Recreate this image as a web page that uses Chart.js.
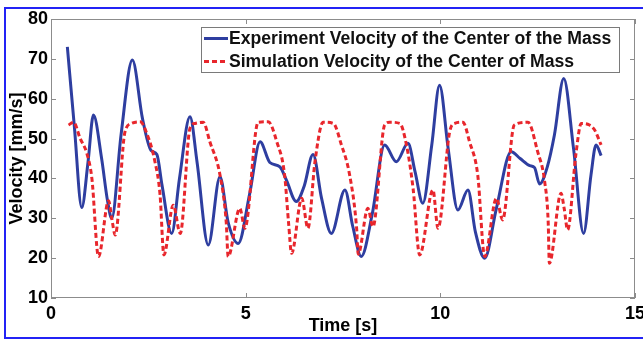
<!DOCTYPE html>
<html lang="en">
<head>
<meta charset="UTF-8">
<title>Velocity of the Center of Mass</title>
<script src="https://cdn.jsdelivr.net/npm/chart.js@4"></script>
<style>
  html, body { margin: 0; padding: 0; background: #fff; }
  #wrap { width: 643px; height: 339px; }
</style>
</head>
<body>
<div id="wrap"><canvas id="velChart" width="643" height="339"></canvas></div>
<script>
// experiment: measured velocity of the centre of mass
const expTime = [0.42, 0.6, 0.79, 0.95, 1.09, 1.3, 1.45, 1.56, 1.8, 2.09, 2.35, 2.57, 2.72, 2.85, 3.1, 3.3,
  3.57, 3.75, 4.04, 4.34, 4.55, 4.81, 5.1, 5.37, 5.62, 5.88, 6.05, 6.3, 6.5, 6.73, 6.95, 7.2, 7.55, 7.75,
  7.97, 8.25, 8.57, 8.87, 9.17, 9.35, 9.55, 9.78, 9.98, 10.2, 10.45, 10.71, 10.9, 11.14, 11.44, 11.82,
  12.05, 12.3, 12.42, 12.55, 12.75, 12.93, 13.17, 13.42, 13.68, 13.87, 14.0, 14.13];
const expVel = [73, 53, 32.7, 44, 55.9, 45, 34.5, 30, 51, 69.7, 55, 47, 46, 38.4, 26.2, 40,
  55.5, 44.2, 23.3, 40.4, 29, 23.7, 36, 49.2, 44, 42.9, 39.5, 34.2, 38, 46, 35, 26.2, 37.1, 28,
  20.4, 31, 48.4, 44.2, 48.8, 41.7, 33.8, 48.4, 63.4, 47.6, 32.1, 37.1, 26.6, 20, 32.5, 46.7,
  45, 43.2, 42.7, 38.6, 43, 50.9, 65.1, 47.6, 26.2, 40.9, 48.4, 45.7];

// simulation velocity of the centre of mass
const simTime = [0.45, 0.58, 0.75, 0.92, 1.05, 1.22, 1.48, 1.56, 1.65, 1.9, 2.07, 2.29, 2.46, 2.67, 2.8, 2.9,
  3.14, 3.32, 3.57, 3.7, 3.91, 4.08, 4.34, 4.5, 4.55, 4.85, 4.98, 5.32, 5.58, 5.8, 6.0, 6.1, 6.18, 6.44,
  6.6, 6.78, 6.99, 7.25, 7.46, 7.67, 7.85, 7.89, 8.14, 8.27, 8.57, 8.7, 8.96, 9.13, 9.3, 9.47, 9.81, 9.94,
  10.24, 10.37, 10.58, 10.75, 10.96, 11.14, 11.44, 11.6, 11.9, 12.25, 12.5, 12.68, 12.77, 12.8, 13.1,
  13.18, 13.27, 13.48, 13.62, 13.83, 13.96, 14.13];
const simVel = [53.4, 54.1, 50, 46.3, 40, 20.4, 34.4, 30, 25.8, 51.7, 53.8, 54.2, 51.3, 44.2, 36, 20.8,
  33.3, 26.2, 52.6, 53.8, 54.1, 49.2, 40.9, 29.1, 20.4, 32.5, 27.5, 54.1, 54.2, 49.2, 40.9, 29.1, 21.2, 35,
  27.5, 44.2, 54.1, 53.8, 48.4, 40.9, 27.5, 21, 32.5, 27.9, 53.4, 54.1, 53.8, 48.4, 37.5, 20.8, 37.1, 27.5,
  51.7, 53.8, 54.1, 49.2, 40.9, 20.4, 35, 29.6, 53.4, 54.1, 46.7, 39.2, 29.1, 18.7, 36.3,
  32.5, 27.1, 45.9, 53.8, 53.4, 52.2, 48.4];

const seriesLabels = ['Experiment Velocity of the Center of the Mass', 'Simulation Velocity of the Center of Mass'];
const xTitle = 'Time [s]';
const yTitle = 'Velocity [mm/s]';

const FONT = '"Liberation Sans", Arial, sans-serif';

// box, inward ticks, frame and legend drawn like the matlab figure
const figurePlugin = {
  id: 'figurePlugin',
  beforeDraw(chart) {
    const ctx = chart.ctx;
    ctx.save();
    ctx.strokeStyle = '#2323f5';
    ctx.lineWidth = 2;
    ctx.beginPath();
    ctx.moveTo(chart.width, 8);
    ctx.lineTo(5, 8);
    ctx.lineTo(5, 338);
    ctx.lineTo(chart.width, 338);
    ctx.stroke();
    ctx.restore();
  },
  afterDatasetsDraw(chart) {
    const { ctx, chartArea: a, scales: { x, y } } = chart;
    ctx.save();
    ctx.strokeStyle = '#8c8c8c';
    ctx.lineWidth = 1;
    ctx.strokeRect(a.left + 0.5, a.top + 0.5, a.right - a.left - 1, a.bottom - a.top - 1);
    ctx.beginPath();
    x.ticks.forEach(t => {
      const px = Math.round(x.getPixelForValue(t.value)) + 0.5;
      ctx.moveTo(px, a.bottom); ctx.lineTo(px, a.bottom - 5);
      ctx.moveTo(px, a.top); ctx.lineTo(px, a.top + 5);
    });
    y.ticks.forEach(t => {
      const py = Math.round(y.getPixelForValue(t.value)) + 0.5;
      ctx.moveTo(a.left, py); ctx.lineTo(a.left + 5, py);
      ctx.moveTo(a.right, py); ctx.lineTo(a.right - 5, py);
    });
    ctx.stroke();

    // legend box
    const lx = 201, ly = 27, lw = 418, lh = 45;
    ctx.fillStyle = '#fff';
    ctx.fillRect(lx, ly, lw, lh);
    ctx.strokeStyle = '#7a7a7a';
    ctx.strokeRect(lx + 0.5, ly + 0.5, lw, lh);
    ctx.font = 'bold 17.6px ' + FONT;
    ctx.textBaseline = 'middle';
    ctx.fillStyle = '#111';
    chart.data.datasets.forEach((ds, i) => {
      const yy = 38.5 + i * 23;
      ctx.strokeStyle = ds.borderColor;
      ctx.lineWidth = ds.borderWidth;
      ctx.setLineDash(ds.borderDash || []);
      ctx.beginPath();
      ctx.moveTo(204, yy); ctx.lineTo(228, yy);
      ctx.stroke();
      ctx.setLineDash([]);
      ctx.fillText(ds.label, 229, yy + 1);
    });
    ctx.restore();
  }
};

new Chart(document.getElementById('velChart'), {
  type: 'line',
  data: {
    datasets: [
      {
        label: seriesLabels[0],
        data: expTime.map((t, i) => ({ x: t, y: expVel[i] })),
        borderColor: 'rgb(46, 62, 160)',
        borderWidth: 3,
        pointRadius: 0,
        cubicInterpolationMode: 'monotone',
        order: 1
      },
      {
        label: seriesLabels[1],
        data: simTime.map((t, i) => ({ x: t, y: simVel[i] })),
        borderColor: 'rgb(232, 38, 44)',
        borderWidth: 3,
        borderDash: [5, 3],
        pointRadius: 0,
        cubicInterpolationMode: 'monotone',
        order: 0
      }
    ]
  },
  options: {
    responsive: false,
    animation: false,
    devicePixelRatio: 1,
    layout: { padding: { top: 19, right: 8, left: 0, bottom: 0 } },
    plugins: { legend: { display: false }, tooltip: { enabled: false } },
    scales: {
      x: {
        type: 'linear',
        min: 0, max: 15,
        grid: { display: false, drawTicks: false },
        border: { display: false },
        ticks: { stepSize: 5, color: '#000', padding: 5, maxRotation: 0, font: { family: FONT, size: 18, weight: 'bold' } },
        title: { display: true, text: xTitle, color: '#000', padding: { top: 0, bottom: 2 }, font: { family: FONT, size: 18, weight: 'bold' } },
        afterFit(scale) { scale.height = 41; scale.paddingLeft = 0; scale.paddingRight = 0; }
      },
      y: {
        min: 10, max: 80,
        grid: { display: false, drawTicks: false },
        border: { display: false },
        ticks: { stepSize: 10, color: '#000', padding: 3, font: { family: FONT, size: 18, weight: 'bold' } },
        title: { display: true, text: yTitle, color: '#000', padding: { top: 6, bottom: 0 }, font: { family: FONT, size: 18, weight: 'bold' } },
        afterFit(scale) { scale.width = 51; scale.paddingTop = 0; scale.paddingBottom = 0; }
      }
    }
  },
  plugins: [figurePlugin]
});
</script>
</body>
</html>
